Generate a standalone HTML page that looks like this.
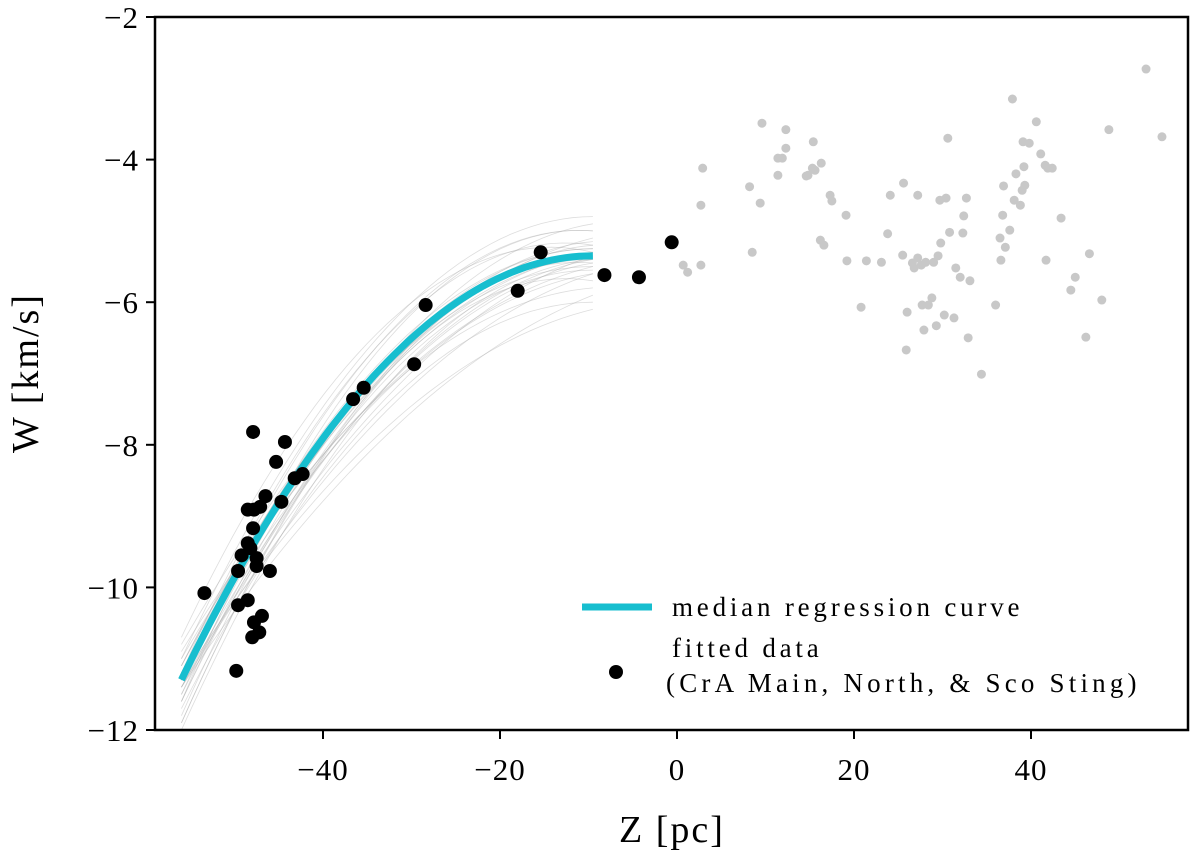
<!DOCTYPE html>
<html><head><meta charset="utf-8"><style>
body{margin:0;background:#fff}
svg text{font-family:"Liberation Serif",serif;fill:#000}
</style></head><body>
<svg id="chart" width="1200" height="857" viewBox="0 0 1200 857" xmlns="http://www.w3.org/2000/svg">
<g id="samples"></g>
<g id="median"></g>
<g id="gray"></g>
<g id="black"></g>
<rect x="155" y="17" width="1033" height="713" fill="none" stroke="#000" stroke-width="2.5"/>
<g id="axes"></g>
<text x="672" y="842" font-size="38" letter-spacing="2" text-anchor="middle">Z [pc]</text>
<text transform="translate(38,373) rotate(-90)" font-size="38" letter-spacing="2" text-anchor="middle">W [km/s]</text>
<g>
<line x1="582" y1="607" x2="652" y2="607" stroke="#17becf" stroke-width="7"/>
<text x="672" y="616" font-size="27" letter-spacing="3.8">median regression curve</text>
<circle cx="616" cy="672" r="7" fill="#000"/>
<text x="672" y="657" font-size="27" letter-spacing="3.8">fitted data</text>
<text x="666" y="692" font-size="27" letter-spacing="4.2">(CrA Main, North, &amp; Sco Sting)</text>
</g>
</svg>
<script>
const xTicks=[-40,-20,0,20,40];
const yTicks=[-2,-4,-6,-8,-10,-12];
const fitZ=[-53.4,-49.8,-49.6,-49.6,-49.2,-47.9,-48.5,-47.8,-47.1,-46.5,-47.9,-48.5,-48.2,-47.5,-47.5,-46.0,-48.5,-46.9,-47.8,-47.2,-48.0,-45.3,-44.7,-44.3,-43.2,-42.3,-36.6,-35.4,-29.7,-28.4,-18.0,-15.4,-8.2,-4.3,-0.6];
const fitW=[-10.08,-11.17,-9.77,-10.25,-9.55,-7.82,-8.91,-8.91,-8.87,-8.72,-9.17,-9.38,-9.45,-9.59,-9.70,-9.77,-10.18,-10.40,-10.49,-10.63,-10.70,-8.24,-8.80,-7.96,-8.47,-8.41,-7.36,-7.20,-6.87,-6.04,-5.84,-5.30,-5.62,-5.65,-5.16];
const otherZ=[0.7,1.2,2.7,2.9,2.7,8.2,8.5,9.4,9.6,11.4,11.4,11.9,12.3,12.3,14.6,14.8,15.3,15.6,15.4,16.3,16.2,16.6,17.3,17.5,19.1,19.2,20.8,21.4,23.1,24.1,23.8,25.6,25.5,25.9,26.0,26.6,26.8,27.2,27.2,27.6,27.7,27.9,28.1,28.4,28.8,29.0,29.3,29.5,29.7,29.8,30.2,30.4,30.6,30.8,31.3,31.5,32.0,32.3,32.4,32.7,32.9,33.1,34.4,36.0,36.6,36.9,37.1,37.6,37.9,38.1,38.3,38.8,39.0,39.1,39.2,39.3,39.8,40.6,41.1,41.6,41.9,41.7,42.4,43.4,44.5,45.0,46.2,46.6,48.0,48.8,53.0,54.8,36.8,36.5];
const otherW=[-5.48,-5.58,-4.64,-4.12,-5.48,-4.38,-5.30,-4.61,-3.49,-3.98,-4.22,-3.98,-3.58,-3.84,-4.23,-4.22,-4.12,-4.15,-3.75,-4.05,-5.13,-5.20,-4.50,-4.58,-4.78,-5.42,-6.07,-5.42,-5.44,-4.50,-5.04,-4.33,-5.34,-6.67,-6.14,-5.45,-5.52,-4.50,-5.38,-5.48,-6.04,-6.39,-5.44,-6.04,-5.94,-5.44,-6.33,-5.35,-4.57,-5.17,-6.18,-4.54,-3.70,-5.02,-6.22,-5.52,-5.65,-5.03,-4.79,-4.54,-6.50,-5.70,-7.01,-6.04,-5.41,-4.37,-5.23,-4.99,-3.15,-4.57,-4.20,-4.64,-4.43,-3.75,-4.10,-4.36,-3.77,-3.47,-3.92,-4.08,-4.12,-5.41,-4.12,-4.82,-5.83,-5.65,-6.49,-5.32,-5.97,-3.58,-2.73,-3.68,-4.78,-5.10];
// median curve: W = top - a*(Z - zTop)^2 on [zStart, zTop]
const medianParams=[-5.35,0.00275,-9.5,-56];
// sample curves: right-end value, left-end value, right-end slope
const sampleRight=[-4.8,-4.9,-5.0,-5.1,-5.15,-5.2,-5.25,-5.3,-5.35,-5.4,-5.45,-5.5,-5.55,-5.6,-5.7,-5.8,-5.9,-6.0,-6.1,-5.3,-5.4,-5.2,-5.5,-5.6,-5.0,-5.35,-5.25,-5.45,-5.3,-5.4];
const sampleLeft=[-11.0,-11.6,-11.3,-10.8,-11.9,-11.2,-11.5,-11.1,-11.4,-12.0,-11.3,-10.9,-11.6,-11.2,-11.8,-11.0,-11.4,-11.7,-11.3,-10.7,-11.5,-11.9,-11.1,-11.4,-11.6,-11.3,-11.2,-11.4,-11.3,-11.1];
const sampleSlope=[0.00,0.02,-0.01,0.03,0.01,-0.02,0.00,0.02,0.04,0.01,-0.01,0.03,0.00,0.02,-0.02,0.01,0.05,0.00,0.03,-0.03,0.02,0.01,0.00,0.04,-0.01,0.01,0.00,0.02,0.01,0.00];

const X=z=>677+(z)*8.85;
const Y=w=>17+(-2-w)*71.3;
const NS="http://www.w3.org/2000/svg";
function mk(t,p,a){const e=document.createElementNS(NS,t);for(const k in a)e.setAttribute(k,a[k]);p.appendChild(e);return e;}
const axes=document.getElementById('axes');
xTicks.forEach(v=>{
 const l=mk('line',axes,{x1:X(v),x2:X(v),y1:730,y2:739,stroke:'#000','stroke-width':2});
 
 
 const t=mk('text',axes,{x:X(v),y:780,'font-size':31,'letter-spacing':1,'text-anchor':'middle'});
 t.textContent=v<0?'\u2212'+(-v):String(v);
 
 
});
yTicks.forEach(v=>{
 const l=mk('line',axes,{x1:146,x2:155,y1:Y(v),y2:Y(v),stroke:'#000','stroke-width':2});
 
 
 const t=mk('text',axes,{x:139,y:Y(v)+11,'font-size':31,'letter-spacing':1,'text-anchor':'end'});
 t.textContent=v<0?'\u2212'+(-v):String(v);
 
 
});
const zTop=medianParams[2],zStart=medianParams[3];
const samples=document.getElementById('samples');
for(let i=0;i<sampleRight.length;i++){
 const r=sampleRight[i],l=sampleLeft[i],b=sampleSlope[i];
 const D=zStart-zTop;
 const a=(l-r-b*D)/(D*D);
 let d='';
 for(let k=0;k<=40;k++){const z=zStart+(zTop-zStart)*k/40;const u=z-zTop;const w=r+b*u+a*u*u;d+=(k?'L':'M')+X(z).toFixed(1)+','+Y(w).toFixed(1);}
 const p=mk('path',samples,{d:d,fill:'none',stroke:'#aaa','stroke-width':0.8,'stroke-opacity':0.4});
 
 
}
let d='';
for(let k=0;k<=60;k++){const z=zStart+(zTop-zStart)*k/60;const u=z-zTop;const w=medianParams[0]-medianParams[1]*u*u;d+=(k?'L':'M')+X(z).toFixed(1)+','+Y(w).toFixed(1);}
const mp=mk('path',document.getElementById('median'),{d:d,fill:'none',stroke:'#17becf','stroke-width':7});


const g=document.getElementById('gray');
otherZ.forEach((z,i)=>{const c=mk('circle',g,{cx:X(z),cy:Y(otherW[i]),r:4.5,fill:'#c8c8c8'});
 
 });
const bk=document.getElementById('black');
fitZ.forEach((z,i)=>{const c=mk('circle',bk,{cx:X(z),cy:Y(fitW[i]),r:7,fill:'#000'});
 
 });
</script>
</body></html>
